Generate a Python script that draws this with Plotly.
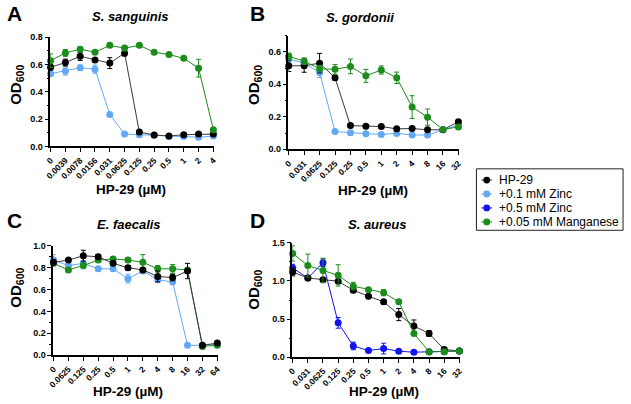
import plotly.graph_objects as go

# ---------------- data ----------------
conc_A = ["0", "0.0039", "0.0078", "0.0156", "0.031", "0.0625", "0.125", "0.25", "0.5", "1", "2", "4"]
conc_B = ["0", "0.031", "0.0625", "0.125", "0.25", "0.5", "1", "2", "4", "8", "16", "32"]
conc_C = ["0", "0.0625", "0.125", "0.25", "0.5", "1", "2", "4", "8", "16", "32", "64"]
conc_D = ["0", "0.031", "0.0625", "0.125", "0.25", "0.5", "1", "2", "4", "8", "16", "32"]

A_hp = [0.58, 0.614, 0.66, 0.633, 0.61, 0.683, 0.105, 0.084, 0.076, 0.086, 0.09, 0.09]
A_hp_err = [0.02, 0.025, 0.03, 0.01, 0.04, 0.02, 0.01, 0.01, 0.01, 0.01, 0.01, 0.01]
A_zn01 = [0.533, 0.552, 0.576, 0.566, 0.234, 0.091, 0.086, 0.081, 0.072, 0.072, 0.067, 0.076]
A_zn01_err = [0.015, 0.03, 0.02, 0.03, 0.01, 0.01, 0.01, 0.01, 0.01, 0.01, 0.01, 0.01]
A_mn = [0.628, 0.685, 0.712, 0.69, 0.74, 0.72, 0.74, 0.69, 0.673, 0.645, 0.573, 0.122]
A_mn_err = [0.05, 0.025, 0.015, 0.01, 0.015, 0.02, 0.01, 0.01, 0.01, 0.01, 0.065, 0.01]

B_hp = [0.514, 0.514, 0.53, 0.44, 0.146, 0.142, 0.14, 0.126, 0.128, 0.12, 0.12, 0.17]
B_hp_err = [0.035, 0.04, 0.06, 0.015, 0.01, 0.01, 0.01, 0.01, 0.01, 0.01, 0.01, 0.01]
B_zn01 = [0.556, 0.53, 0.472, 0.11, 0.102, 0.096, 0.092, 0.098, 0.088, 0.088, 0.12, 0.15]
B_zn01_err = [0.02, 0.03, 0.03, 0.01, 0.01, 0.01, 0.01, 0.01, 0.01, 0.01, 0.01, 0.01]
B_mn = [0.572, 0.542, 0.496, 0.492, 0.51, 0.452, 0.488, 0.44, 0.26, 0.198, 0.122, 0.138]
B_mn_err = [0.02, 0.02, 0.02, 0.03, 0.045, 0.04, 0.025, 0.035, 0.07, 0.05, 0.01, 0.01]

C_hp = [0.85, 0.87, 0.91, 0.90, 0.84, 0.80, 0.78, 0.72, 0.71, 0.77, 0.09, 0.11]
C_hp_err = [0.02, 0.01, 0.05, 0.02, 0.02, 0.02, 0.02, 0.05, 0.03, 0.07, 0.01, 0.01]
C_zn01 = [0.87, 0.82, 0.84, 0.79, 0.79, 0.70, 0.77, 0.69, 0.67, 0.09, 0.09, 0.10]
C_zn01_err = [0.05, 0.02, 0.05, 0.02, 0.02, 0.04, 0.02, 0.02, 0.02, 0.01, 0.01, 0.01]
C_mn = [0.84, 0.78, 0.82, 0.87, 0.88, 0.87, 0.85, 0.79, 0.79, 0.78, 0.08, 0.09]
C_mn_err = [0.02, 0.01, 0.02, 0.02, 0.02, 0.02, 0.07, 0.03, 0.04, 0.02, 0.01, 0.01]

D_hp = [1.117, 1.04, 1.018, 0.997, 0.877, 0.80, 0.726, 0.559, 0.408, 0.31, 0.10, 0.08]
D_hp_err = [0.05, 0.02, 0.02, 0.02, 0.03, 0.02, 0.03, 0.08, 0.08, 0.04, 0.02, 0.01]
D_zn05 = [1.17, 1.04, 1.24, 0.45, 0.146, 0.086, 0.112, 0.077, 0.064, 0.07, 0.07, 0.08]
D_zn05_err = [0.05, 0.03, 0.05, 0.07, 0.05, 0.02, 0.07, 0.02, 0.01, 0.01, 0.01, 0.01]
D_mn = [1.362, 1.203, 1.139, 1.074, 0.932, 0.885, 0.847, 0.726, 0.31, 0.068, 0.07, 0.08]
D_mn_err = [0.1, 0.15, 0.16, 0.14, 0.05, 0.02, 0.04, 0.02, 0.02, 0.01, 0.01, 0.01]

series_names = ["HP-29", "+0.1 mM Zinc", "+0.5 mM Zinc", "+0.05 mM Manganese"]
panel_titles = ["S. sanguinis", "S. gordonii", "E. faecalis", "S. aureus"]
panel_letters = ["A", "B", "C", "D"]

# ---------------- styles ----------------
W, H = 631, 404
FONT = "Liberation Sans, Arial, sans-serif"
colors = {"HP-29": "#000000", "+0.1 mM Zinc": "#62a8f5", "+0.5 mM Zinc": "#1212ee",
          "+0.05 mM Manganese": "#1c8c1c"}
line_colors = {"HP-29": "#3a3a3a", "+0.1 mM Zinc": "#62a8f5", "+0.5 mM Zinc": "#1212ee",
               "+0.05 mM Manganese": "#1c8c1c"}

fig = go.Figure()


def add(name, xs, ys, err, ax):
    sfx = "" if ax == 1 else str(ax)
    fig.add_trace(go.Scatter(
        x=xs, y=ys, mode="lines+markers", name=name,
        xaxis="x" + sfx, yaxis="y" + sfx,
        line=dict(color=line_colors[name], width=1),
        marker=dict(color=colors[name], size=7),
        error_y=dict(type="data", array=err, color=colors[name], thickness=1, width=2.5),
        cliponaxis=False, showlegend=False,
    ))


add("+0.1 mM Zinc", conc_A, A_zn01, A_zn01_err, 1)
add("HP-29", conc_A, A_hp, A_hp_err, 1)
add("+0.05 mM Manganese", conc_A, A_mn, A_mn_err, 1)

add("+0.1 mM Zinc", conc_B, B_zn01, B_zn01_err, 2)
add("HP-29", conc_B, B_hp, B_hp_err, 2)
add("+0.05 mM Manganese", conc_B, B_mn, B_mn_err, 2)

add("+0.1 mM Zinc", conc_C, C_zn01, C_zn01_err, 3)
add("+0.05 mM Manganese", conc_C, C_mn, C_mn_err, 3)
add("HP-29", conc_C, C_hp, C_hp_err, 3)

add("+0.5 mM Zinc", conc_D, D_zn05, D_zn05_err, 4)
add("HP-29", conc_D, D_hp, D_hp_err, 4)
add("+0.05 mM Manganese", conc_D, D_mn, D_mn_err, 4)

# plot-area rectangles in pixels: (left, right, top, bottom)
boxes = [(45, 211, 33, 145), (287, 460, 31.3, 148), (48, 215, 247, 359), (291, 461, 244, 361)]
yranges = [[0, 0.8], [0, 0.7], [0, 1.0], [0, 1.5]]
ytickvals = [[0, 0.2, 0.4, 0.6, 0.8], [0, 0.2, 0.4, 0.6], [0, 0.2, 0.4, 0.6, 0.8, 1.0], [0, 0.5, 1.0, 1.5]]
minor_dt = [0.1, 0.1, 0.1, 0.25]

xtickfont = dict(family=FONT, size=8.5, color="black", weight="bold")
ytickfont = dict(family=FONT, size=9, color="black", weight="bold")
layout = {}
for i, (l, r, t, b) in enumerate(boxes):
    sfx = "" if i == 0 else str(i + 1)
    layout["xaxis" + sfx] = dict(
        domain=[l / W, r / W], anchor="y" + sfx, type="category",
        range=[-0.02, 11.02], showline=True, linecolor="black", linewidth=1.5,
        ticks="outside", ticklen=4, tickwidth=1.2, tickcolor="black",
        tickangle=-45, tickfont=xtickfont, showgrid=False, zeroline=False, fixedrange=True,
    )
    layout["yaxis" + sfx] = dict(
        domain=[1 - b / H, 1 - t / H], anchor="x" + sfx, range=yranges[i],
        tickvals=ytickvals[i], tickformat=".1f", showline=True, linecolor="black", linewidth=1.5,
        ticks="outside", ticklen=4, tickwidth=1.2, tickcolor="black", tickfont=ytickfont,
        minor=dict(dtick=minor_dt[i], ticks="outside", ticklen=2, tickcolor="black", tickwidth=1),
        showgrid=False, zeroline=False, fixedrange=True,
    )

ann = []
shapes = []
title_pos = [(127, 12), (360, 13), (125, 225), (377, 225)]
letter_pos = [(9, 9), (256, 9), (9, 221), (256, 221)]
xtitle_pos = [(127, 189), (373, 190), (124, 396), (384, 396)]
ytitle_pos = [(11, 82), (253, 82), (11, 290), (253, 292)]
for i in range(4):
    tx, ty = title_pos[i]
    ann.append(dict(x=tx / W, y=1 - ty / H, xref="paper", yref="paper", showarrow=False,
                    text="<b><i>" + panel_titles[i] + "</i></b>", font=dict(family=FONT, size=13, color="black"),
                    xanchor="center", yanchor="middle"))
    lx, ly = letter_pos[i]
    ann.append(dict(x=lx / W, y=1 - ly / H, xref="paper", yref="paper", showarrow=False,
                    text="<b>" + panel_letters[i] + "</b>", font=dict(family=FONT, size=21, color="black"),
                    xanchor="center", yanchor="middle"))
    xx, xy = xtitle_pos[i]
    ann.append(dict(x=xx / W, y=1 - xy / H, xref="paper", yref="paper", showarrow=False,
                    text="<b>HP-29 (µM)</b>", font=dict(family=FONT, size=13.5, color="black"),
                    xanchor="center", yanchor="middle"))
    yx, yy = ytitle_pos[i]
    ann.append(dict(x=yx / W, y=1 - yy / H, xref="paper", yref="paper", showarrow=False,
                    text="<b>OD<sub>600</sub></b>", font=dict(family=FONT, size=15, color="black"),
                    textangle=-90, xanchor="center", yanchor="middle"))

# ---------------- legend (box, keys, labels) ----------------
LX0, LX1, LY0, LY1 = 478, 627, 168, 231
shapes.append(dict(type="rect", xref="paper", yref="paper", x0=LX0 / W, x1=LX1 / W,
                   y0=1 - LY1 / H, y1=1 - LY0 / H, line=dict(color="#222222", width=1),
                   fillcolor="white", layer="below"))
for k, name in enumerate(series_names):
    cy = 179.5 + 14.3 * k
    shapes.append(dict(type="line", xref="paper", yref="paper", x0=483 / W, x1=494 / W,
                       y0=1 - cy / H, y1=1 - cy / H, line=dict(color=line_colors[name], width=1)))
    shapes.append(dict(type="circle", xref="paper", yref="paper", x0=485 / W, x1=492 / W,
                       y0=1 - (cy + 3.5) / H, y1=1 - (cy - 3.5) / H,
                       line=dict(color=colors[name], width=0), fillcolor=colors[name]))
    ann.append(dict(x=499 / W, y=1 - cy / H, xref="paper", yref="paper", showarrow=False,
                    text=name, font=dict(family=FONT, size=12, color="black"),
                    xanchor="left", yanchor="middle"))

fig.update_layout(
    width=W, height=H, margin=dict(l=0, r=0, t=0, b=0),
    paper_bgcolor="white", plot_bgcolor="white",
    font=dict(family=FONT, color="black"),
    annotations=ann, shapes=shapes, showlegend=False,
    **layout,
)

fig.write_html("out.html")
